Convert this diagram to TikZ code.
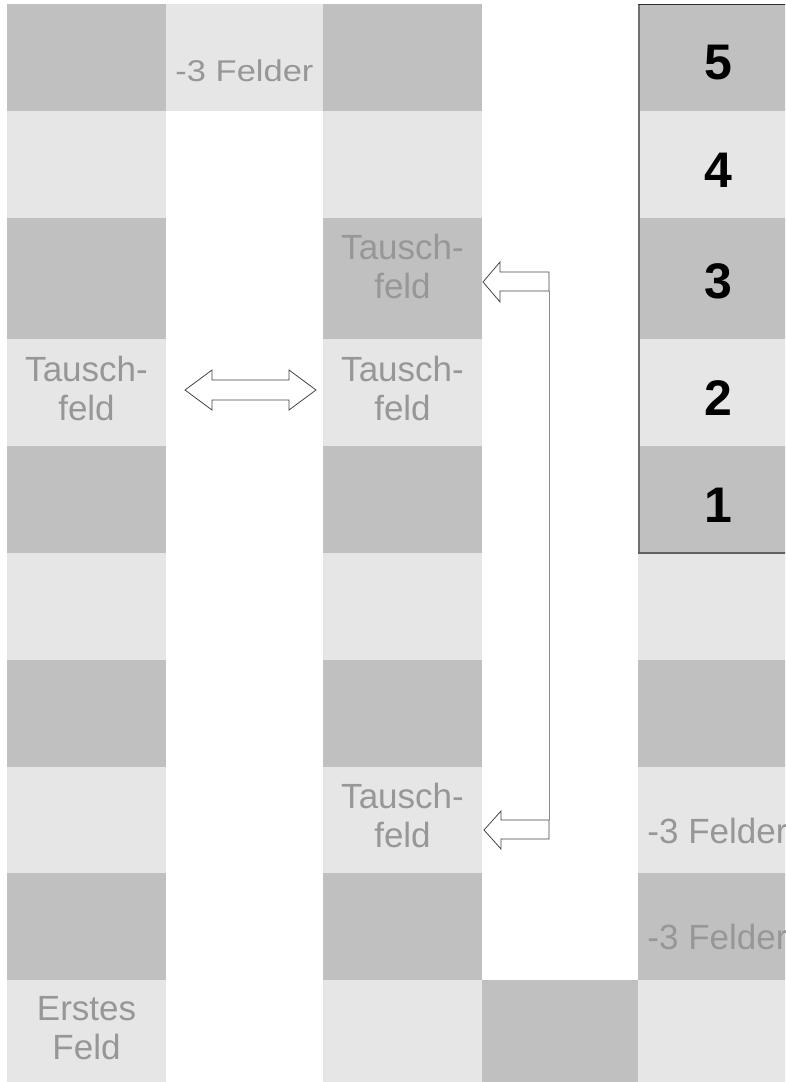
\documentclass[tikz,border=0pt]{standalone}
\usepackage{fontspec}
\setmainfont{Liberation Sans}
\usepackage{graphicx}
\definecolor{celldark}{HTML}{C0C0C0}
\definecolor{celllight}{HTML}{E6E6E6}
\definecolor{txtgray}{HTML}{979797}
\definecolor{arrowline}{HTML}{454545}
\definecolor{linkgray}{HTML}{8A8A8A}
\definecolor{boxleft}{HTML}{707070}
\definecolor{boxtop}{HTML}{303030}
\definecolor{boxbottom}{HTML}{606060}
\tikzset{
  lbl/.style={text=txtgray, font=\fontsize{35}{39}\selectfont, inner sep=0pt, align=center},
  lblsmall/.style={text=txtgray, font=\fontsize{30}{36}\selectfont, inner sep=0pt},
  num/.style={text=black, font=\fontsize{50}{56}\selectfont\bfseries, inner sep=0pt},
  arrowbox/.style={fill=white, draw=arrowline, line width=0.8pt, line join=miter},
  link/.style={draw=linkgray, line width=1pt},
}
\begin{document}
\begin{tikzpicture}[x=1pt,y=-1pt]
\useasboundingbox (0,0) rectangle (785,1082);
\fill[white] (0,0) rectangle (785,1082);
\clip (0,0) rectangle (785,1082);
% checkered columns 1, 3, 5
\foreach \r/\t/\b in {0/4/111,1/111/218,2/218/339,3/339/446,4/446/553,5/553/660,6/660/767,7/767/873,8/873/980,9/980/1087}{
  \ifodd\r \colorlet{cc}{celllight}\else\colorlet{cc}{celldark}\fi
  \fill[cc] (7,\t) rectangle (166,\b);
  \fill[cc] (323,\t) rectangle (482,\b);
  \fill[cc] (638,\t) rectangle (797,\b);
}
% extra cells
\fill[celllight] (166,4) rectangle (323,111);
\fill[celldark] (482,980) rectangle (638,1087);
% box border of column 5
\draw[draw=boxleft, line width=1.6pt] (638.8,4) -- (638.8,553);
\draw[draw=boxtop, line width=1.4pt] (638,4.6) -- (790,4.6);
\draw[draw=boxbottom, line width=1.4pt] (638,553) -- (790,553);
% labels
\node[lblsmall, anchor=base] (felderTop) at (244.5,81) {\scalebox{1.15}[1]{-3 Felder}};
\node[lbl, anchor=north] (tauschA) at (86.5,356) {Tausch-\\feld};
\node[lbl, anchor=north] (tauschB) at (402.5,234) {Tausch-\\feld};
\node[lbl, anchor=north] (tauschC) at (402.5,356) {Tausch-\\feld};
\node[lbl, anchor=north] (tauschD) at (402.5,783) {Tausch-\\feld};
\node[lbl, anchor=north] (erstes) at (86.5,996) {Erstes\\Feld};
\node[lbl, anchor=base] (felderA) at (717.5,843) {-3 Felder};
\node[lbl, anchor=base] (felderB) at (717.5,949) {-3 Felder};
\node[num, anchor=base] (n5) at (718,79) {5};
\node[num, anchor=base] (n4) at (718,187) {4};
\node[num, anchor=base] (n3) at (718,298) {3};
\node[num, anchor=base] (n2) at (718,415) {2};
\node[num, anchor=base] (n1) at (718,522) {1};
% double arrow
\draw[arrowbox] (185,390) -- (212,370) -- (212,380) -- (289,380) -- (289,370) -- (316,390) -- (289,410) -- (289,400) -- (212,400) -- (212,410) -- cycle;
% connector between the two single arrows
\coordinate (linkTop) at (549,291);
\coordinate (linkBottom) at (549,820);
\draw[link] (linkTop) -- (linkBottom);
% single arrows
\draw[arrowbox] (483,282) -- (500,262) -- (500,272) -- (549,272) -- (549,291) -- (500,291) -- (500,302) -- cycle;
\draw[arrowbox] (484,830) -- (501,811) -- (501,820) -- (549,820) -- (549,839) -- (501,839) -- (501,849) -- cycle;
\end{tikzpicture}
\end{document}
